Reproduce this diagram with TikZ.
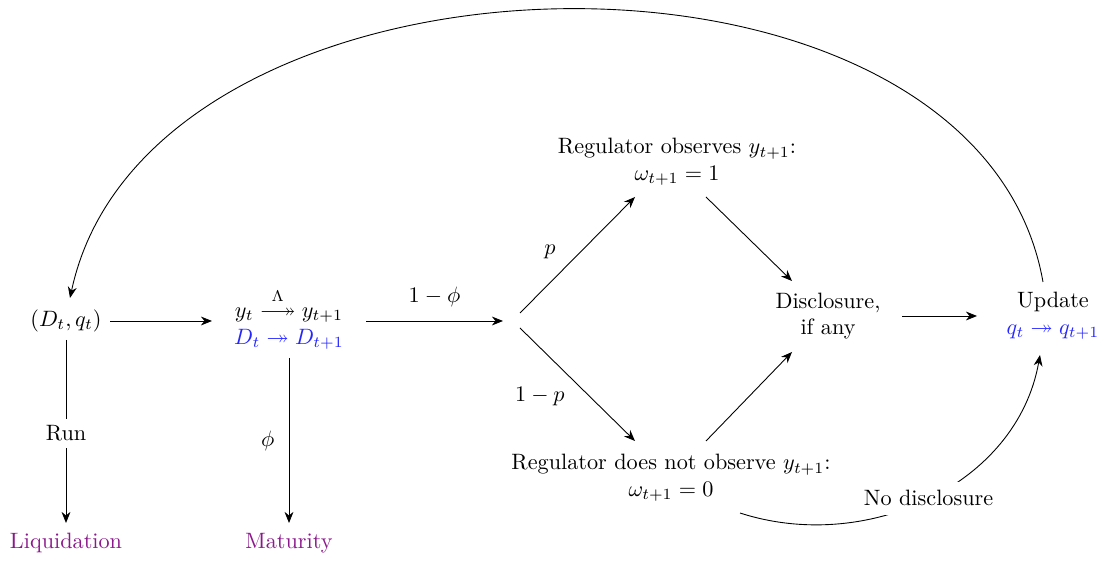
\documentclass[tikz,border=0pt]{standalone}
\usepackage{amsmath,amssymb}
\usetikzlibrary{arrows.meta,positioning}
\definecolor{purp}{rgb}{0.55,0.1,0.55}
\definecolor{myblue}{rgb}{0.15,0.15,1}
\newcommand{\lamarrow}{\mathrel{\overset{\Lambda}{\relbar\joinrel\twoheadrightarrow}}}
\begin{document}
\begin{tikzpicture}[x=0.45pt,y=-0.45pt,
  arr/.style={-{Stealth[length=5pt,width=4pt]}, line width=0.4pt},
  txt/.style={align=center, inner sep=0pt}]
\useasboundingbox (0,0) rectangle (1118,562);
\node[txt] (A) at (66,321) {$(D_t,q_t)$};
\node[txt] (B) at (289,319) {$y_t \lamarrow y_{t+1}$\\[0pt] \textcolor{myblue}{$D_t \twoheadrightarrow D_{t+1}$}};
\coordinate (C) at (512,321);
\node[txt] (U) at (677,162) {Regulator observes $y_{t+1}$:\\ $\omega_{t+1}=1$};
\node[txt] (L) at (671,478) {Regulator does not observe $y_{t+1}$:\\ $\omega_{t+1}=0$};
\node[txt] (D) at (828,316) {Disclosure,\\ if any};
\node[txt] (Up) at (1053,316) {Update\\ \textcolor{myblue}{$q_t \twoheadrightarrow q_{t+1}$}};
\node[txt, text=purp] (Liq) at (66,543) {Liquidation};
\node[txt, text=purp] (Mat) at (289,543) {Maturity};
\coordinate (a1) at (110,321); \coordinate (b1) at (212,321);
\coordinate (b2) at (366,321); \coordinate (c1) at (503,321);
\coordinate (c2) at (520,313); \coordinate (u1) at (635,197);
\coordinate (c3) at (520,328); \coordinate (l1) at (635,441);
\coordinate (u2) at (706,197); \coordinate (d1) at (792,281);
\coordinate (l2) at (706,441); \coordinate (d2) at (792,352);
\coordinate (d3) at (902,316); \coordinate (up1) at (977,316);
\coordinate (a2) at (66,340); \coordinate (liq1) at (66,523);
\coordinate (b3) at (289,358); \coordinate (mat1) at (289,523);
\coordinate (up2) at (1043,282); \coordinate (a3) at (70,298);
\coordinate (l3) at (740,513); \coordinate (up3) at (1040,355);
\draw[arr] (a1) -- (b1);
\draw[arr] (b2) -- node[above=3pt] {$1-\phi$} (c1);
\draw[arr] (c2) -- node[pos=0.3, xshift=-2pt, yshift=11.7pt] {$p$} (u1);
\draw[arr] (c3) -- node[pos=0.5, xshift=-16.9pt, yshift=-5.6pt] {$1-p$} (l1);
\draw[arr] (u2) -- (d1);
\draw[arr] (l2) -- (d2);
\draw[arr] (d3) -- (up1);
\draw[arr] (a2) -- node[fill=white, inner sep=3pt, pos=0.51] {Run} (liq1);
\draw[arr] (b3) -- node[left=3pt, pos=0.5] {$\phi$} (mat1);
\draw[arr] (up2) to[out=100, in=78] (a3);
\draw[arr] (l3) to[out=-18, in=-100] node[fill=white, inner sep=4pt, pos=0.5] {No disclosure} (up3);
\end{tikzpicture}
\end{document}
